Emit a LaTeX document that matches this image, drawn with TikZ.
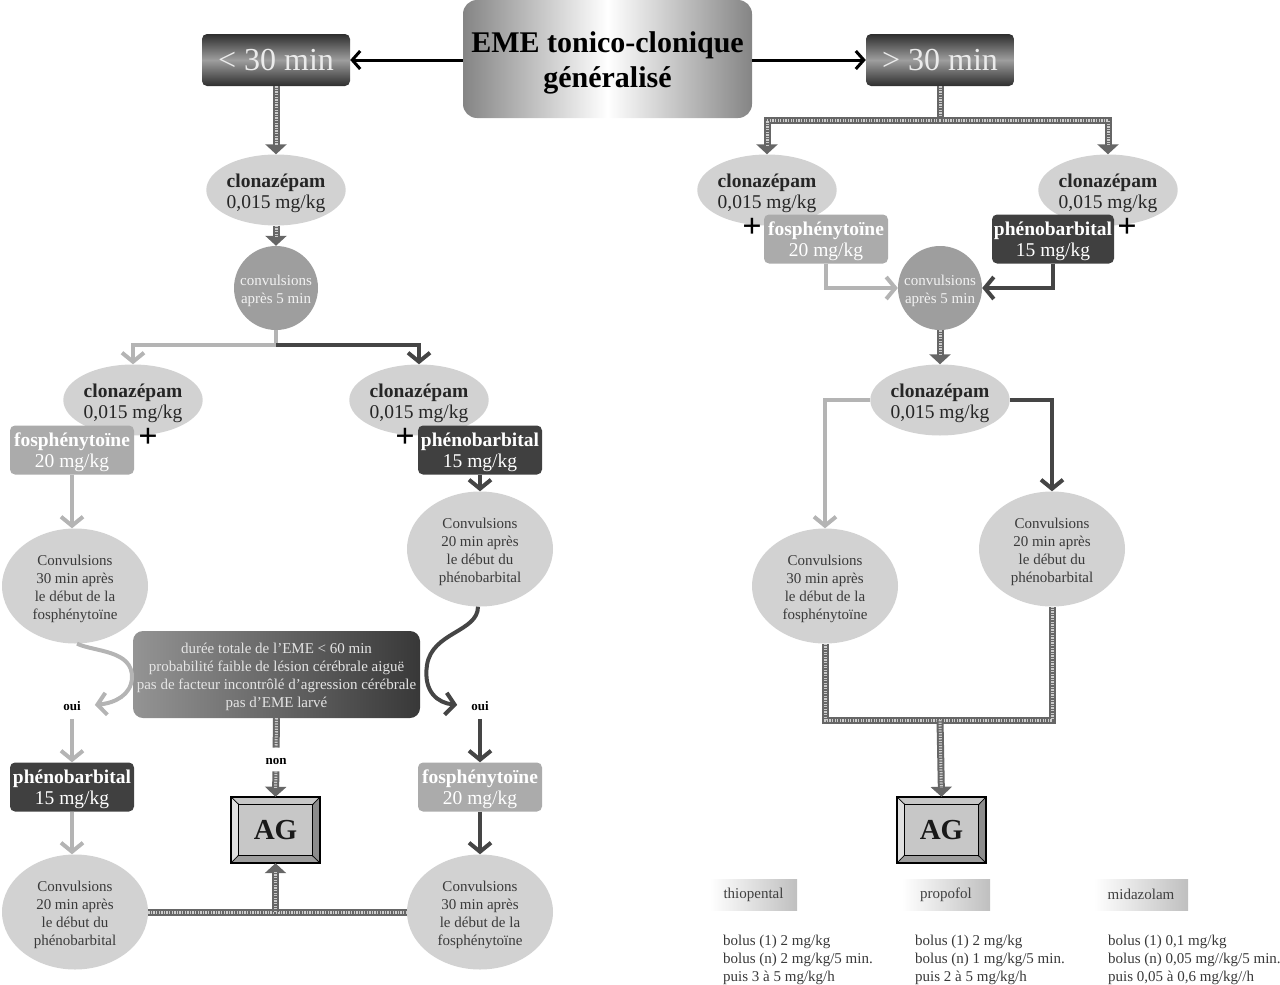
\documentclass[tikz,border=0pt]{standalone}
\usepackage{fontspec}
\setmainfont{Liberation Serif}
\usetikzlibrary{shapes.geometric,arrows.meta,backgrounds}
\definecolor{ellG}{HTML}{D2D2D2}
\definecolor{cirG}{HTML}{9E9E9E}
\definecolor{fosG}{HTML}{ABABAB}
\definecolor{pheG}{HTML}{404040}
\definecolor{arL}{HTML}{B4B4B4}
\definecolor{arD}{HTML}{454545}
\definecolor{txD}{HTML}{3A3A3A}
\newcommand\fsDrug{\fontsize{19.5}{21.5}\selectfont}
\newcommand\fsSmall{\fontsize{15}{18}\selectfont}
\newcommand\vup[1]{\rule{0pt}{#1}}
\tikzset{
  drugell/.style={ellipse, fill=ellG, minimum width=127pt, minimum height=71pt, inner sep=0pt, align=center, font=\fsDrug, text=black!85},
  cvb/.style={ellipse, fill=ellG, minimum width=146pt, minimum height=115pt, inner sep=0pt, align=center, font=\fsSmall, text=txD},
  cfive/.style={circle, fill=cirG, minimum size=84pt, inner sep=0pt, align=center, font=\fsSmall, text=black!5},
  medbox/.style={rounded corners=5pt, minimum width=124pt, minimum height=49pt, inner sep=0pt, align=center, font=\fsDrug, text=white},
  fosbox/.style={medbox, fill=fosG},
  phebox/.style={medbox, fill=pheG},
  plussign/.style={inner sep=0pt, font=\fontsize{34}{34}\selectfont\bfseries, text=black},
  yesno/.style={inner sep=2pt, font=\fontsize{13}{13}\selectfont\bfseries, text=black},
  timebox/.style={rounded corners=5pt, minimum width=148pt, minimum height=52pt, inner sep=0pt, top color=black!82, bottom color=black!82, middle color=black!38, text=black!8, font=\fontsize{32}{32}\selectfont},
  lline/.style={draw=arL, line width=4pt, -{Straight Barb[length=9pt,width=22pt]}},
  dline/.style={draw=arD, line width=4pt, -{Straight Barb[length=9pt,width=22pt]}},
  hatchB/.style={draw=black!60, line width=7pt, postaction={draw=black!20, line width=3pt, dash pattern=on 1.3pt off 1.3pt, -}},
  hatchA/.style={draw=black!60, line width=7pt, -{Triangle[width=21pt,length=10pt]}, postaction={draw=black!20, line width=3pt, dash pattern=on 1.3pt off 1.3pt, -, shorten >=9pt}},
  blkarrow/.style={draw=black, line width=3pt, -{Straight Barb[length=8pt,width=18pt]}},
  agbox/.style={minimum width=89pt, minimum height=66pt, inner sep=0pt, font=\fontsize{29}{29}\selectfont\bfseries, text=black!90},
  lab/.style={minimum width=88pt, minimum height=31pt, inner sep=0pt, left color=white, right color=black!25, font=\fsSmall, text=black!75},
  dose/.style={anchor=north west, inner sep=0pt, align=left, font=\fsSmall, text=black!78}
}
\newcommand\clzT{\vup{20pt}\textbf{clonazépam}\\0,015 mg/kg}
\newcommand\fosT{\vup{18.5pt}\textbf{fosphénytoïne}\\20 mg/kg}
\newcommand\pheT{\vup{18.5pt}\textbf{phénobarbital}\\15 mg/kg}
\newcommand\cvFos{\vup{16pt}Convulsions\\30 min après\\le début de la\\fosphénytoïne}
\newcommand\cvPhe{\vup{16pt}Convulsions\\20 min après\\le début du\\phénobarbital}
\newcommand\cvFive{\vup{15.5pt}convulsions\\après 5 min}
\begin{document}
\begin{tikzpicture}[x=1pt,y=-1pt]
\useasboundingbox (0,0) rectangle (1280,985);

% ---- top ----
\node[rounded corners=14pt, minimum width=289pt, minimum height=118pt, inner sep=0pt, left color=black!48, right color=black!48, middle color=white, align=center, font=\fontsize{30}{35}\selectfont\bfseries] (title) at (607.5,59) {\vup{29pt}EME tonico-clonique\\généralisé};
\node[timebox] (lt30) at (276,60) {< 30 min};
\node[timebox] (gt30) at (940,60) {> 30 min};
\draw[blkarrow] (title.west |- lt30.east) -- (lt30.east);
\draw[blkarrow] (title.east |- gt30.west) -- (gt30.west);

% ---- left branch ----
\node[drugell] (clz1) at (276,190) {\clzT};
\node[cfive] (c5) at (276,288) {\cvFive};
\node[drugell] (clzL) at (133,400) {\clzT};
\node[drugell] (clzM) at (419,400) {\clzT};
\node[fosbox] (fosL) at (72,450) {\fosT};
\node[phebox] (pheM) at (480,450) {\pheT};
\node[plussign] (plL) at (148,438) {+};
\node[plussign] (plM) at (405,438) {+};
\node[cvb] (cvL) at (75,586) {\cvFos};
\node[cvb] (cvM) at (480,549) {\cvPhe};
\node[rounded corners=10pt, minimum width=287pt, minimum height=87pt, inner sep=0pt, left color=black!42, right color=black!78, align=center, font=\fsSmall, text=black!10] (gbox) at (276.5,674.5) {\vup{14.5pt}durée totale de l’EME < 60 min\\probabilité faible de lésion cérébrale aiguë\\pas de facteur incontrôlé d’agression cérébrale\\pas d’EME larvé};
\node[yesno] (ouiL) at (72,706) {oui};
\node[yesno] (ouiR) at (480,706) {oui};
\node[yesno] (nonL) at (276,761) {non};
\node[phebox] (pheL) at (72,787) {\pheT};
\node[fosbox] (fosR) at (480,787) {\fosT};
\node[agbox] (agL) at (275.5,830) {AG};
\node[cvb] (cvBL) at (75,912) {\cvPhe};
\node[cvb] (cvBR) at (480,912) {\cvFos};

% ---- right branch ----
\node[drugell] (clzR1) at (767,190) {\clzT};
\node[drugell] (clzR2) at (1108,190) {\clzT};
\node[fosbox] (fosR1) at (826,239) {\fosT};
\node[phebox, minimum width=122pt] (pheR1) at (1053,239) {\pheT};
\node[plussign] (plR1) at (752,228) {+};
\node[plussign] (plR2) at (1127,228) {+};
\node[cfive] (c5R) at (940,288) {\cvFive};
\node[drugell] (clzR3) at (940,400) {\clzT};
\node[cvb] (cvR1) at (825,586) {\cvFos};
\node[cvb] (cvR2) at (1052,549) {\cvPhe};
\node[agbox] (agR) at (941.5,830) {AG};

% ---- bottom right doses ----
\node[lab, minimum width=87pt] (thio) at (753.5,894.5) {thiopental};
\node[lab] (prop) at (946,894.5) {propofol};
\node[lab, minimum width=94pt] (mida) at (1141,894.5) {midazolam};
\node[dose] (thioD) at (723,935) {bolus (1) 2 mg/kg\\bolus (n) 2 mg/kg/5 min.\\puis 3 à 5 mg/kg/h};
\node[dose] (propD) at (915,935) {bolus (1) 2 mg/kg\\bolus (n) 1 mg/kg/5 min.\\puis 2 à 5 mg/kg/h};
\node[dose] (midaD) at (1108,935) {bolus (1) 0,1 mg/kg\\bolus (n) 0,05 mg//kg/5 min.\\puis 0,05 à 0,6 mg/kg//h};

% ---- AG bevels ----
\begin{pgfonlayer}{background}
\foreach \n in {agL,agR}{
  \fill[black!30] (\n.north west) rectangle (\n.south east);
  \filldraw[fill=black!22, draw=black, line width=0.6pt] (\n.north west) -- (\n.north east) -- ++(-8,8) -- ++(-73,0) -- cycle;
  \filldraw[fill=black!45, draw=black, line width=0.6pt] (\n.north east) -- (\n.south east) -- ++(-8,-8) -- ++(0,-50) -- cycle;
  \filldraw[fill=black!38, draw=black, line width=0.6pt] (\n.south east) -- (\n.south west) -- ++(8,-8) -- ++(73,0) -- cycle;
  \filldraw[fill=black!12, draw=black, line width=0.6pt] (\n.south west) -- (\n.north west) -- ++(8,8) -- ++(0,50) -- cycle;
  \filldraw[fill=black!22, draw=black, line width=0.8pt] ([shift={(8,8)}]\n.north west) rectangle ([shift={(-8,-8)}]\n.south east);
  \draw[line width=1.6pt] (\n.north west) rectangle (\n.south east);
}
\end{pgfonlayer}

% ---- hatched connectors ----
\draw[hatchA] (lt30.south) -- (clz1.north);
\draw[hatchA] (clz1.south) -- (c5.north);
\coordinate (hr) at (940,120);
\draw[hatchB] (gt30.south) -- (hr);
\draw[hatchA] (hr) -| (clzR1.north);
\draw[hatchA] (hr) -| (clzR2.north);
\draw[hatchA] (c5R.south) -- (clzR3.north);
\coordinate (hr2) at (940,720);
\draw[hatchB] (cvR1.south) |- (hr2) -| (cvR2.south);
\draw[hatchA] (hr2) -- (agR.north);
\draw[hatchB] (cvBL.east) -- (cvBR.west);
\draw[hatchA] (agL.south |- cvBL.east) -- (agL.south);
\draw[hatchB, shorten >=8pt] (gbox.south) -- (nonL.north);
\draw[hatchA, shorten <=5pt] (nonL.south) -- (agL.north);

% ---- coloured connectors ----
\coordinate (jL) at (276,345);
\draw[lline] (c5.south) -- (jL) -| (clzL.north);
\draw[dline] (jL) -| (clzM.north);
\draw[lline] (fosL.south) -- (fosL.south |- cvL.north);
\draw[dline] (pheM.south) -- (pheM.south |- cvM.north);
\draw[lline, shorten >=12pt] (cvL.-88) .. controls (95,652) and (133,650) .. (132,678) .. controls (131,695) and (115,703) .. (ouiL.east);
\draw[dline, shorten >=12pt] (cvM.-92) .. controls (478,632) and (432,632) .. (427,665) .. controls (423,692) and (438,703) .. (ouiR.west);
\draw[lline, shorten <=6pt] (ouiL.south) -- (pheL.north);
\draw[lline] (pheL.south) -- (pheL.south |- cvBL.north);
\draw[dline, shorten <=6pt] (ouiR.south) -- (fosR.north);
\draw[dline] (fosR.south) -- (fosR.south |- cvBR.north);
\draw[lline] (fosR1.south) |- (c5R.west);
\draw[dline] (pheR1.south) |- (c5R.east);
\draw[lline] (clzR3.west) -| (cvR1.north);
\draw[dline] (clzR3.east) -| (cvR2.north);
\end{tikzpicture}
\end{document}
